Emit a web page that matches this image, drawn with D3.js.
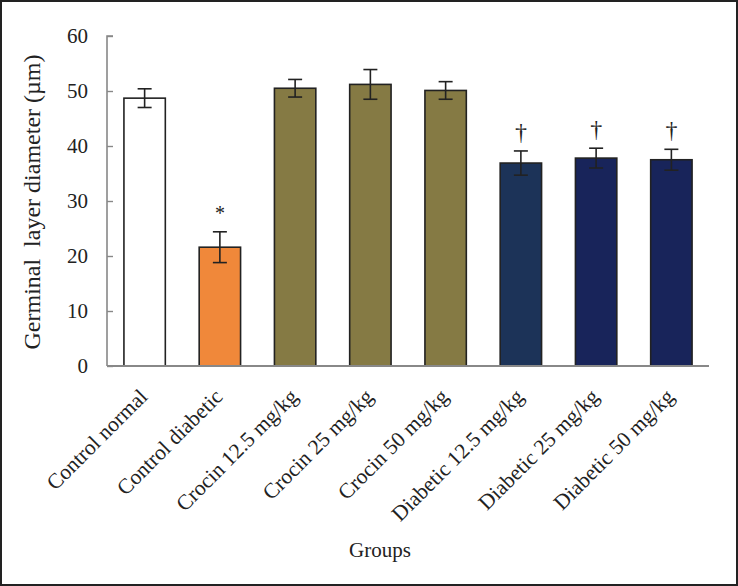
<!DOCTYPE html>
<html>
<head>
<meta charset="utf-8">
<script src="https://cdn.jsdelivr.net/npm/d3@7"></script>
<style>
html,body{margin:0;padding:0;background:#fff;}
svg{display:block;}
text{font-family:"Liberation Serif","Times New Roman",serif;fill:#222;}
</style>
</head>
<body>
<svg id="chart" width="738" height="586"></svg>
<script>
const categories = ["Control normal","Control diabetic","Crocin 12.5 mg/kg","Crocin 25 mg/kg","Crocin 50 mg/kg","Diabetic 12.5 mg/kg","Diabetic 25 mg/kg","Diabetic 50 mg/kg"];
const means = [48.7, 21.6, 50.5, 51.2, 50.1, 36.9, 37.8, 37.5];
const errors = [1.7, 2.8, 1.6, 2.7, 1.6, 2.2, 1.8, 1.9];
const marks = ["", "*", "", "", "", "†", "†", "†"];
const colors = ["#ffffff", "#f0883a", "#857a44", "#857a44", "#857a44", "#1c3358", "#18245a", "#18245a"];
const yTicks = [0, 10, 20, 30, 40, 50, 60];
const yTitle = "Germinal\u00a0 layer diameter (\u00b5m)";
const xTitle = "Groups";

(function(){
const svg = d3.select("#chart");
const mLeft = 107, mRight = 709, mTop = 36, mBottom = 366;

// frame
svg.append("rect").attr("x",1).attr("y",1).attr("width",736).attr("height",584)
  .attr("fill","#fff").attr("stroke","#222").attr("stroke-width",2);

const x = d3.scaleBand().domain(categories).range([mLeft, mRight]).paddingInner(0.45).paddingOuter(0.225);
const y = d3.scaleLinear().domain([0, 60]).range([mBottom, mTop]);

// bars
svg.append("g").selectAll("rect").data(categories).join("rect")
  .attr("x", d => x(d)).attr("width", x.bandwidth())
  .attr("y", (d,i) => y(means[i])).attr("height", (d,i) => y(0) - y(means[i]))
  .attr("fill", (d,i) => colors[i]).attr("stroke", "#222").attr("stroke-width", 1.6);

// y axis
const yAxis = svg.append("g").attr("transform", `translate(${mLeft},0)`)
  .call(d3.axisRight(y).tickValues(yTicks).tickSize(6).tickFormat(""));
yAxis.select(".domain").attr("stroke","#888").attr("stroke-width",1.6).attr("d", `M6,${mTop}H0V${mBottom}`);
yAxis.selectAll(".tick line").attr("stroke","#888").attr("stroke-width",1.4);
svg.append("g").selectAll("text").data(yTicks).join("text")
  .attr("x", 88).attr("y", d => y(d)).attr("dy","0.35em")
  .attr("text-anchor","end").attr("font-size", 21).text(d => d);

// x axis line
svg.append("line").attr("x1", mLeft).attr("x2", mRight).attr("y1", mBottom).attr("y2", mBottom)
  .attr("stroke","#888").attr("stroke-width",1.8);

// error bars
const eb = svg.append("g").attr("stroke","#222").attr("stroke-width",1.6);
categories.forEach((c,i) => {
  const cx = x(c) + x.bandwidth()/2;
  const hi = y(means[i] + errors[i]), lo = y(means[i] - errors[i]);
  eb.append("line").attr("x1",cx).attr("x2",cx).attr("y1",hi).attr("y2",lo);
  eb.append("line").attr("x1",cx-7).attr("x2",cx+7).attr("y1",hi).attr("y2",hi);
  eb.append("line").attr("x1",cx-7).attr("x2",cx+7).attr("y1",lo).attr("y2",lo);
});

// significance marks
svg.append("g").selectAll("text").data(categories).join("text")
  .attr("x", d => x(d) + x.bandwidth()/2)
  .attr("y", (d,i) => y(means[i] + errors[i]) - (marks[i] === "*" ? 12 : 11))
  .attr("text-anchor","middle").attr("font-size", (d,i) => marks[i] === "*" ? 20 : 24)
  .text((d,i) => marks[i]);

// x tick labels
svg.append("g").selectAll("text").data(categories).join("text")
  .attr("transform", d => `translate(${x(d) + x.bandwidth()/2 + 4},${mBottom + 32}) rotate(-45)`)
  .attr("text-anchor","end").attr("font-size", 21.5).text(d => d);

// titles
svg.append("text").attr("transform", `translate(40,202) rotate(-90)`)
  .attr("text-anchor","middle").attr("font-size", 24).text(yTitle);
svg.append("text").attr("x", 380).attr("y", 557).attr("text-anchor","middle")
  .attr("font-size", 21).text(xTitle);
})();
</script>
</body>
</html>
